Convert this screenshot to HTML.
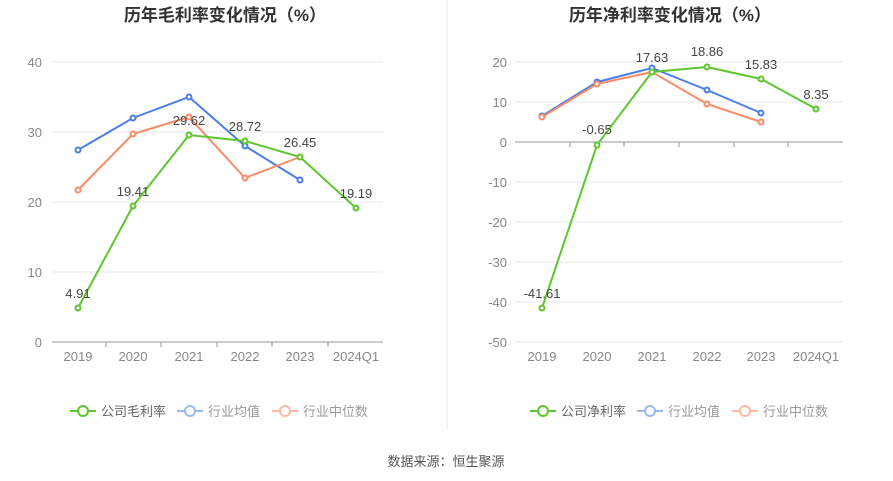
<!DOCTYPE html>
<html><head><meta charset="utf-8"><style>
body{margin:0;background:#fff}
svg{display:block;font-family:"Liberation Sans","Noto Sans CJK SC",sans-serif}
</style></head><body>
<svg width="893" height="481" viewBox="0 0 893 481">
<rect width="893" height="481" fill="#fff"/>
<line x1="447" y1="0" x2="447" y2="430" stroke="#eee"/>
<text x="225" y="21" text-anchor="middle" font-size="17" font-weight="bold" fill="#333">历年毛利率变化情况（%）</text>
<text x="670" y="21" text-anchor="middle" font-size="17" font-weight="bold" fill="#333">历年净利率变化情况（%）</text>
<g stroke="#e8e8e8">
<line x1="52" y1="62" x2="383" y2="62"/><line x1="52" y1="132" x2="383" y2="132"/><line x1="52" y1="202" x2="383" y2="202"/><line x1="52" y1="272" x2="383" y2="272"/>
<line x1="515" y1="62" x2="843" y2="62"/><line x1="515" y1="102" x2="843" y2="102"/><line x1="515" y1="182" x2="843" y2="182"/><line x1="515" y1="222" x2="843" y2="222"/><line x1="515" y1="262" x2="843" y2="262"/><line x1="515" y1="302" x2="843" y2="302"/><line x1="515" y1="342" x2="843" y2="342"/>
</g>
<line x1="52" y1="342" x2="383" y2="342" stroke="#999"/>
<line x1="515" y1="142" x2="843" y2="142" stroke="#999"/>
<g stroke="#999"><line x1="106" y1="342" x2="106" y2="347"/><line x1="161" y1="342" x2="161" y2="347"/><line x1="217" y1="342" x2="217" y2="347"/><line x1="272" y1="342" x2="272" y2="347"/><line x1="328" y1="342" x2="328" y2="347"/>
<line x1="570" y1="142" x2="570" y2="147"/><line x1="624" y1="142" x2="624" y2="147"/><line x1="679" y1="142" x2="679" y2="147"/><line x1="734" y1="142" x2="734" y2="147"/><line x1="788" y1="142" x2="788" y2="147"/></g>
<g font-size="13" fill="#888" text-anchor="end">
<text x="42" y="67">40</text><text x="42" y="137">30</text><text x="42" y="207">20</text><text x="42" y="277">10</text><text x="42" y="347">0</text>
<text x="507" y="67">20</text><text x="507" y="107">10</text><text x="507" y="147">0</text><text x="507" y="187">-10</text><text x="507" y="227">-20</text><text x="507" y="267">-30</text><text x="507" y="307">-40</text><text x="507" y="347">-50</text>
</g>
<g font-size="13" fill="#888" text-anchor="middle">
<text x="78" y="361">2019</text><text x="133" y="361">2020</text><text x="189" y="361">2021</text><text x="245" y="361">2022</text><text x="300" y="361">2023</text><text x="356" y="361">2024Q1</text>
<text x="542" y="361">2019</text><text x="597" y="361">2020</text><text x="652" y="361">2021</text><text x="707" y="361">2022</text><text x="761" y="361">2023</text><text x="816" y="361">2024Q1</text>
</g>
<g fill="#fff" stroke-width="2">
<polyline fill="none" stroke="#4a7ee8" points="78,150 133,118 189,97 245,146 300,180"/>
<polyline fill="none" stroke="#f98b68" points="78,190 133,134 189,117 245,178 300,157"/>
<polyline fill="none" stroke="#5cc72e" points="78,308 133,206 189,135 245,141 300,157 356,208"/>
<g stroke="#4a7ee8"><circle cx="78" cy="150" r="2.5"/><circle cx="133" cy="118" r="2.5"/><circle cx="189" cy="97" r="2.5"/><circle cx="245" cy="146" r="2.5"/><circle cx="300" cy="180" r="2.5"/></g>
<g stroke="#f98b68"><circle cx="78" cy="190" r="2.5"/><circle cx="133" cy="134" r="2.5"/><circle cx="189" cy="117" r="2.5"/><circle cx="245" cy="178" r="2.5"/><circle cx="300" cy="157" r="2.5"/></g>
<g stroke="#5cc72e"><circle cx="78" cy="308" r="2.5"/><circle cx="133" cy="206" r="2.5"/><circle cx="189" cy="135" r="2.5"/><circle cx="245" cy="141" r="2.5"/><circle cx="300" cy="157" r="2.5"/><circle cx="356" cy="208" r="2.5"/></g>
<polyline fill="none" stroke="#4a7ee8" points="542,116 597,82 652,68 707,90 761,113"/>
<polyline fill="none" stroke="#f98b68" points="542,117 597,84 652,72 707,104 761,122"/>
<polyline fill="none" stroke="#5cc72e" points="542,308 597,145 652,72 707,67 761,79 816,109"/>
<g stroke="#4a7ee8"><circle cx="542" cy="116" r="2.5"/><circle cx="597" cy="82" r="2.5"/><circle cx="652" cy="68" r="2.5"/><circle cx="707" cy="90" r="2.5"/><circle cx="761" cy="113" r="2.5"/></g>
<g stroke="#f98b68"><circle cx="542" cy="117" r="2.5"/><circle cx="597" cy="84" r="2.5"/><circle cx="652" cy="72" r="2.5"/><circle cx="707" cy="104" r="2.5"/><circle cx="761" cy="122" r="2.5"/></g>
<g stroke="#5cc72e"><circle cx="542" cy="308" r="2.5"/><circle cx="597" cy="145" r="2.5"/><circle cx="652" cy="72" r="2.5"/><circle cx="707" cy="67" r="2.5"/><circle cx="761" cy="79" r="2.5"/><circle cx="816" cy="109" r="2.5"/></g>
</g>
<g font-size="13" fill="#444" text-anchor="middle">
<text x="78" y="298">4.91</text><text x="133" y="196">19.41</text><text x="189" y="125">29.62</text><text x="245" y="131">28.72</text><text x="300" y="147">26.45</text><text x="356" y="198">19.19</text>
<text x="542" y="298">-41.61</text><text x="597" y="134">-0.65</text><text x="652" y="62">17.63</text><text x="707" y="56">18.86</text><text x="761" y="69">15.83</text><text x="816" y="99">8.35</text>
</g>
<g font-size="13" fill="#666" stroke-width="2">
<line x1="70" y1="411" x2="96" y2="411" stroke="#5cc72e"/><circle cx="83" cy="411" r="5" fill="#fff" stroke="#5cc72e"/><text x="101" y="416">公司毛利率</text>
<line x1="177" y1="411" x2="203" y2="411" stroke="#9bb8f2"/><circle cx="190" cy="411" r="5" fill="#fff" stroke="#9bb8f2"/><text x="208" y="416" fill="#999">行业均值</text>
<line x1="272" y1="411" x2="298" y2="411" stroke="#fbb9a4"/><circle cx="285" cy="411" r="5" fill="#fff" stroke="#fbb9a4"/><text x="303" y="416" fill="#999">行业中位数</text>
<line x1="530" y1="411" x2="556" y2="411" stroke="#5cc72e"/><circle cx="543" cy="411" r="5" fill="#fff" stroke="#5cc72e"/><text x="561" y="416">公司净利率</text>
<line x1="637" y1="411" x2="663" y2="411" stroke="#9bb8f2"/><circle cx="650" cy="411" r="5" fill="#fff" stroke="#9bb8f2"/><text x="668" y="416" fill="#999">行业均值</text>
<line x1="732" y1="411" x2="758" y2="411" stroke="#fbb9a4"/><circle cx="745" cy="411" r="5" fill="#fff" stroke="#fbb9a4"/><text x="763" y="416" fill="#999">行业中位数</text>
</g>
<text x="446" y="466" text-anchor="middle" font-size="13" fill="#555">数据来源：恒生聚源</text>
</svg>
</body></html>
